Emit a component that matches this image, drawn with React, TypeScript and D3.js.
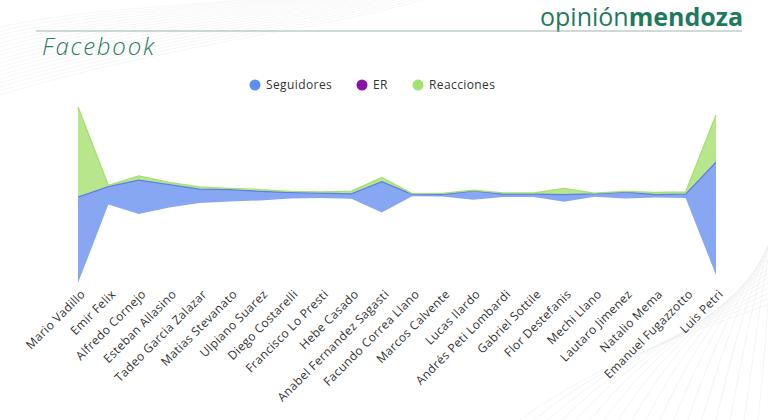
import React, { useEffect, useRef } from 'react';
import * as d3 from 'd3';

// candidates on the x axis
const names = [
  'Mario Vadillo', 'Emir Felix', 'Alfredo Cornejo', 'Esteban Allasino',
  'Tadeo Garcia Zalazar', 'Matias Stevanato', 'Ulpiano Suarez', 'Diego Costarelli',
  'Francisco Lo Presti', 'Hebe Casado', 'Anabel Fernandez Sagasti', 'Facundo Correa Llano',
  'Marcos Calvente', 'Lucas Ilardo', 'Andrés Peti Lombardi', 'Gabriel Sottile',
  'Flor Destefanis', 'Mechi Llano', 'Lautaro Jimenez', 'Natalio Mema',
  'Emanuel Fugazzotto', 'Luis Petri',
];

// values in thousands (estimated)
const seguidores = [430, 90, 170, 115, 70, 60, 45, 30, 25, 25, 155, 10, 10, 45, 15, 15, 35, 15, 32, 15, 20, 565];
const er = [1.2, 0.8, 1.5, 1.1, 0.9, 0.7, 1.0, 0.6, 0.5, 1.3, 1.4, 0.4, 0.6, 0.3, 0.5, 0.6, 1.6, 0.4, 0.3, 0.9, 0.8, 1.9];
const reacciones = [450, 5, 20, 10, 10, 5, 8, 5, 5, 12, 20, 3, 5, 2, 5, 5, 30, 3, 3, 10, 10, 235];

const seriesKeys = ['Seguidores', 'ER', 'Reacciones'];
const fills = ['#88a7f3', '#8b1aa6', '#b7e68c'];
const strokes = ['#5b7fe6', '#8b1aa6', '#a6df72'];
const legendColors = ['#5b8ef6', '#8a12a6', '#a3e270'];

const App = () => {
  const svgRef = useRef(null);

  useEffect(() => {
    const width = 768;
    const height = 420;
    const svg = d3.select(svgRef.current);
    svg.selectAll('*').remove();

    svg.append('rect').attr('width', width).attr('height', height).attr('fill', '#fff');

    // faint decorative swooshes (background)
    const deco = svg.append('g').attr('fill', 'none').attr('stroke', '#ececec').attr('stroke-width', 0.6);
    for (let i = 0; i < 18; i++) {
      deco.append('path')
        .attr('d', `M${520 + i * 14},420 C${600 + i * 10},${360 - i * 3} ${700 + i * 4},${330 - i * 4} ${780},${300 - i * 6}`);
      deco.append('path')
        .attr('d', `M-10,${30 + i * 4} C${60 + i * 6},${10 + i * 2} ${200 + i * 10},${5 + i} ${300 + i * 8},-5`)
        .attr('stroke', '#f2f2f2');
    }

    // header
    const logo = svg.append('text')
      .attr('x', 743).attr('y', 26)
      .attr('text-anchor', 'end')
      .attr('font-family', 'Open Sans, sans-serif')
      .attr('font-size', 25)
      .attr('fill', '#1f7a5d');
    logo.append('tspan').text('opinión');
    logo.append('tspan').attr('font-weight', 700).text('mendoza');

    svg.append('line')
      .attr('x1', 36).attr('x2', 742).attr('y1', 31).attr('y2', 31)
      .attr('stroke', '#9fb3ac').attr('stroke-width', 1);

    svg.append('text')
      .attr('x', 42).attr('y', 55)
      .attr('font-family', 'Open Sans, sans-serif')
      .attr('font-style', 'italic')
      .attr('font-weight', 300)
      .attr('font-size', 24)
      .attr('letter-spacing', 1.8)
      .attr('fill', '#2d7a68')
      .text('Facebook');

    // legend
    const legendX = [255, 362, 418];
    const legend = svg.append('g').attr('font-family', 'Open Sans, sans-serif').attr('font-size', 12)
      .attr('letter-spacing', 0.4).attr('fill', '#333');
    seriesKeys.forEach((k, i) => {
      legend.append('circle').attr('cx', legendX[i]).attr('cy', 85).attr('r', 5.5).attr('fill', legendColors[i]);
      legend.append('text').attr('x', legendX[i] + 11).attr('y', 85).attr('dy', '0.35em').text(k);
    });

    // data table
    const rows = names.map((n, i) => ({
      name: n,
      Seguidores: seguidores[i],
      ER: er[i],
      Reacciones: reacciones[i],
    }));

    const stack = d3.stack().keys(seriesKeys).offset(d3.stackOffsetSilhouette);
    const layers = stack(rows);

    const x = d3.scalePoint().domain(names).range([78, 716]);
    const yMax = d3.max(layers, l => d3.max(l, d => Math.max(Math.abs(d[0]), Math.abs(d[1]))));
    const y = d3.scaleLinear().domain([-yMax, yMax]).range([283, 107]);

    const area = d3.area()
      .x(d => x(d.data.name))
      .y0(d => y(d[0]))
      .y1(d => y(d[1]));
    const topLine = d3.line()
      .x(d => x(d.data.name))
      .y(d => y(d[1]));

    const g = svg.append('g');
    layers.forEach((l, i) => {
      g.append('path').attr('d', area(l)).attr('fill', fills[i]);
    });
    layers.forEach((l, i) => {
      if (i === 1) return;
      g.append('path').attr('d', topLine(l)).attr('fill', 'none')
        .attr('stroke', strokes[i]).attr('stroke-width', 1.3);
    });

    // x labels
    svg.append('g')
      .attr('font-family', 'Open Sans, sans-serif')
      .attr('font-size', 12)
      .attr('letter-spacing', 0.35)
      .attr('fill', '#333')
      .selectAll('text')
      .data(names)
      .join('text')
      .attr('transform', d => `translate(${x(d) + 5},${292}) rotate(-45)`)
      .attr('text-anchor', 'end')
      .attr('dy', '0.35em')
      .text(d => d);
  }, []);

  return <svg ref={svgRef} width={768} height={420} style={{ position: 'absolute', left: 0, top: 0, display: 'block' }}></svg>;
};

export default App;
